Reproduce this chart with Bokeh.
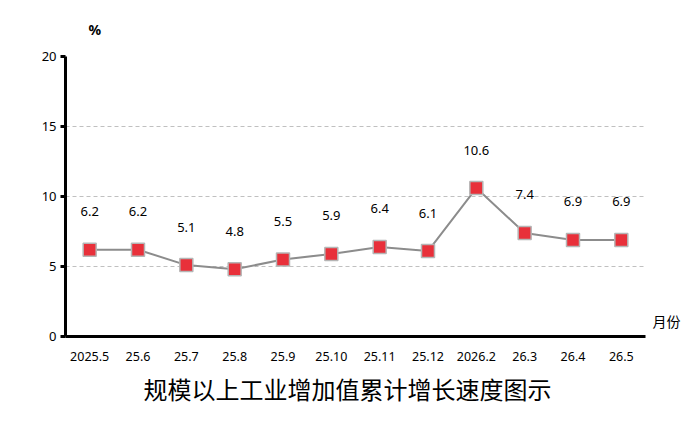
from bokeh.plotting import figure
from bokeh.models import ColumnDataSource, FixedTicker, Range1d, Title, LinearAxis
from bokeh.core.properties import value
from bokeh.embed import file_html
from bokeh.resources import INLINE

months = ["2025.5", "25.6", "25.7", "25.8", "25.9", "25.10", "25.11", "25.12", "2026.2", "26.3", "26.4", "26.5"]
growth = [6.2, 6.2, 5.1, 4.8, 5.5, 5.9, 6.4, 6.1, 10.6, 7.4, 6.9, 6.9]
y_ticks = [0, 5, 10, 15, 20]
title_text = "规模以上工业增加值累计增长速度图示"
y_unit = "%"
x_unit = "月份"

src = ColumnDataSource(dict(x=months, y=growth, lab=[f"{v:.1f}" for v in growth]))

p = figure(width=690, height=421, x_range=months, y_range=Range1d(0, 20),
           output_backend="svg", toolbar_location=None,
           min_border_left=65, min_border_right=45, min_border_top=56, min_border_bottom=85)
p.outline_line_color = None
p.background_fill_color = "white"

# top unit label as title
p.title.text = y_unit
p.title.align = "left"
p.title.offset = 23
p.title.standoff = 35
p.title.text_font = "Noto Sans"
p.title.text_font_size = "14px"
p.title.text_font_style = "bold"
p.title.text_color = "black"

# axes
p.yaxis.ticker = FixedTicker(ticks=y_ticks)
p.yaxis.axis_line_width = 3
p.yaxis.axis_line_color = "black"
p.yaxis.major_tick_line_width = 3
p.yaxis.major_tick_line_color = "black"
p.yaxis.major_tick_out = 5
p.yaxis.major_tick_in = 0
p.yaxis.minor_tick_line_color = None
p.yaxis.major_label_text_font = "Noto Sans"
p.yaxis.major_label_text_font_size = "13px"
p.yaxis.major_label_text_color = "black"
p.yaxis.major_label_standoff = 4

p.xaxis.axis_line_width = 3
p.xaxis.axis_line_color = "black"
p.xaxis.major_tick_line_color = None
p.xaxis.minor_tick_line_color = None
p.xaxis.major_label_text_font = "Noto Sans"
p.xaxis.major_label_text_font_size = "12.5px"
p.xaxis.major_label_text_color = "black"
p.xaxis.major_label_standoff = 9

# right-side unit label via an invisible axis
rax = LinearAxis(ticker=FixedTicker(ticks=[1.1]), major_label_overrides={1.1: x_unit})
rax.axis_line_color = None
rax.major_tick_line_color = None
rax.minor_tick_line_color = None
rax.major_tick_out = 0
rax.major_tick_in = 0
rax.major_label_standoff = 7
rax.major_label_text_font = "Noto Sans CJK SC"
rax.major_label_text_font_size = "14px"
rax.major_label_text_color = "black"
p.add_layout(rax, "right")

p.xgrid.grid_line_color = None
p.ygrid.grid_line_color = "#c0c0c0"
p.ygrid.grid_line_dash = "4 3"
p.ygrid.grid_line_width = 1

p.line(x="x", y="y", source=src, line_color="#8c8c8c", line_width=2)
p.scatter(x="x", y="y", source=src, marker="square", size=13, fill_color="#e8303a",
          line_color="#b5b5b5", line_width=1.5)

p.text(x="x", y="y", text="lab", source=src, y_offset=-38, text_align="center",
       text_baseline="middle", text_font=value("Noto Sans"), text_font_size="13px",
       text_color="black")

bt = Title(text=title_text, align="left", offset=78, standoff=10,
           text_font="Noto Sans CJK SC", text_font_size="24px", text_font_style="normal",
           text_color="black")
p.add_layout(bt, "below")

open("out.html", "w").write(file_html(p, INLINE))
